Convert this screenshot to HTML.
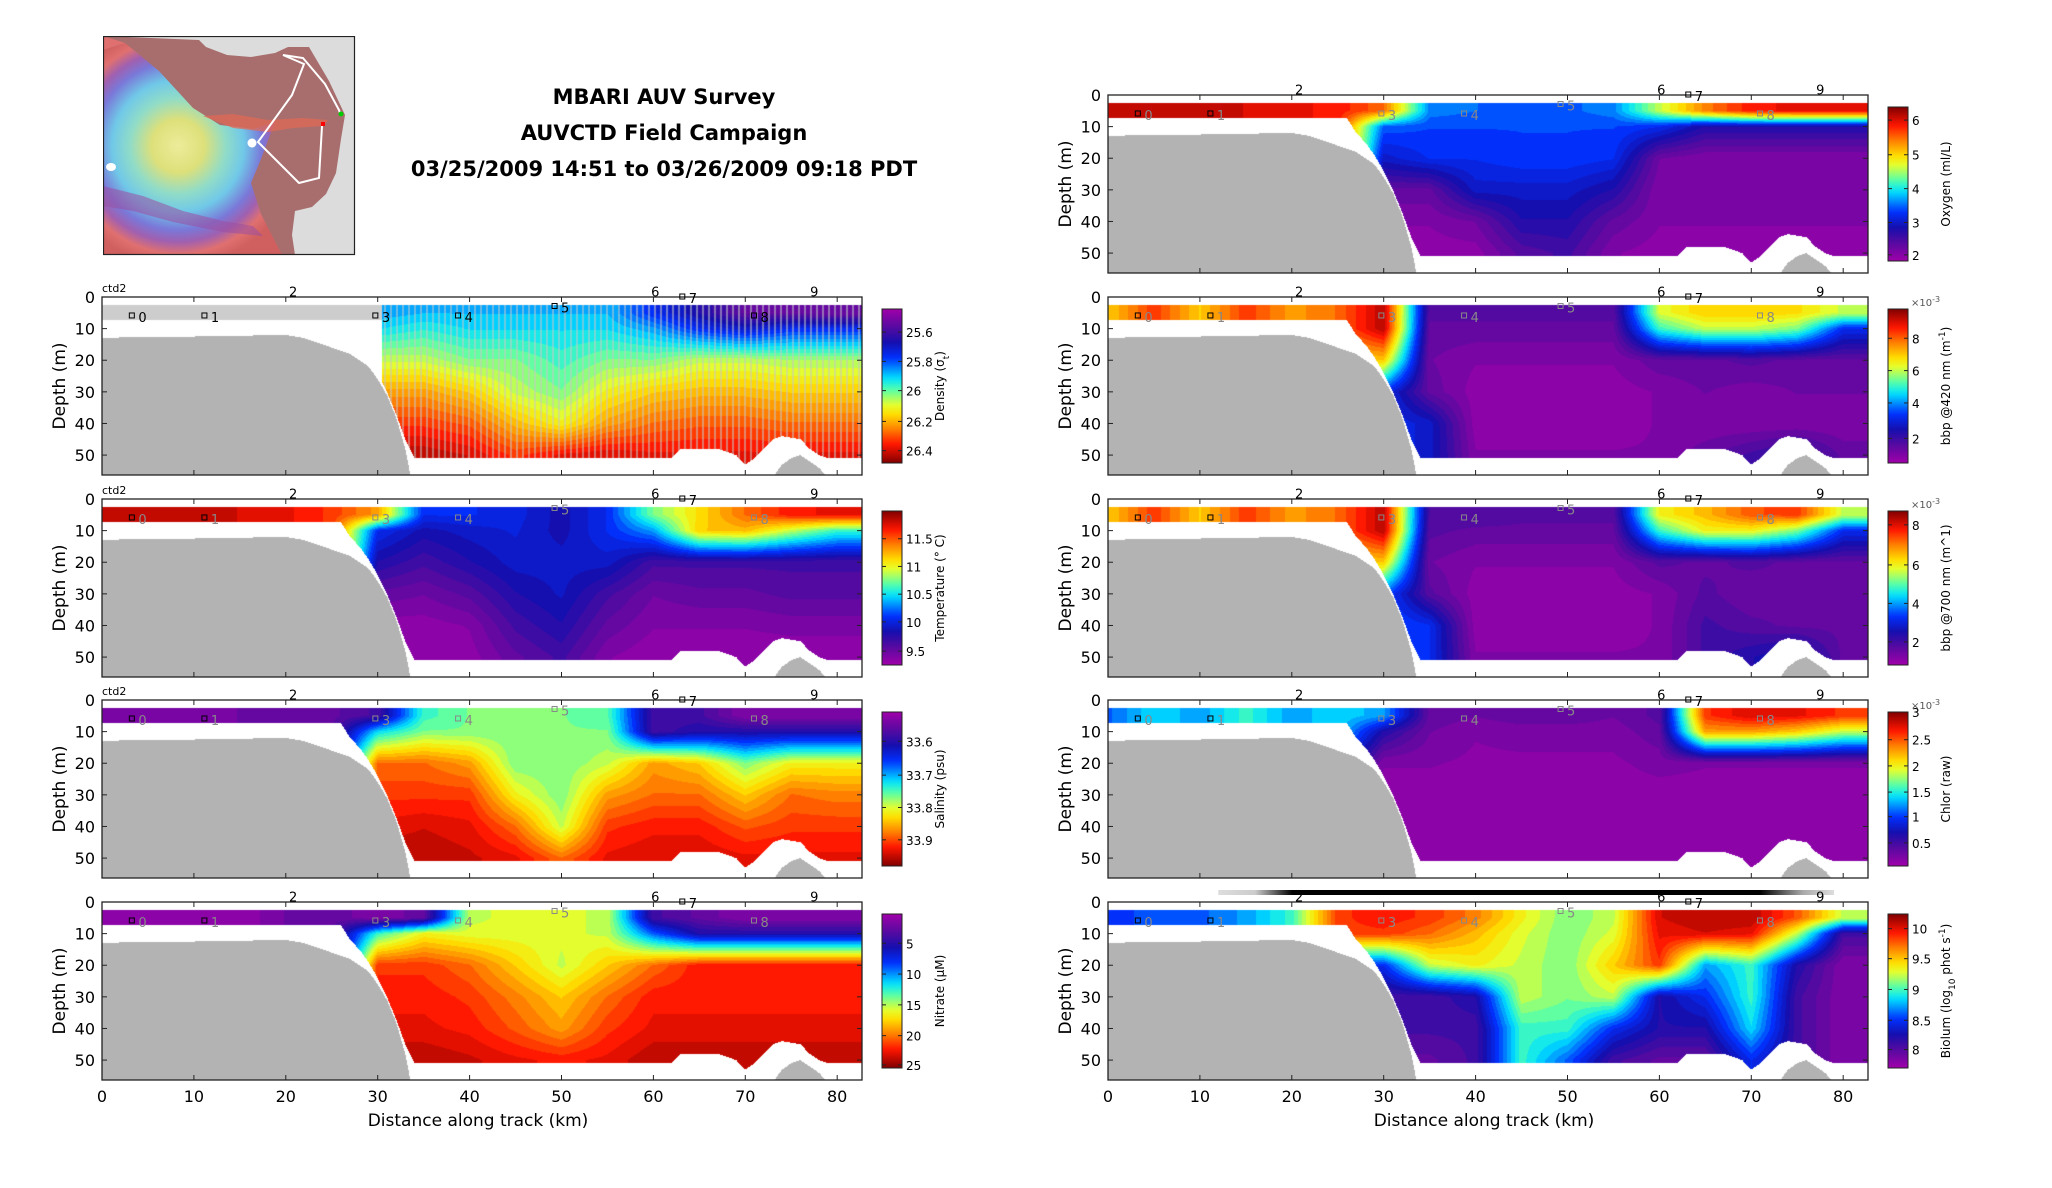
<!DOCTYPE html>
<html><head><meta charset="utf-8">
<style>
html,body{margin:0;padding:0;background:#fff;}
#root{position:relative;width:2052px;height:1188px;overflow:hidden;background:#fff;font-family:"DejaVu Sans","Liberation Sans",sans-serif;}
canvas{position:absolute;}
svg{position:absolute;left:0;top:0;}
</style></head>
<body>
<div id="root">
<svg id="map" style="left:103px;top:36px" width="253" height="220" viewBox="0 0 253 220">
 <defs>
  <radialGradient id="rg" cx="75" cy="110" r="120" gradientUnits="userSpaceOnUse">
   <stop offset="0" stop-color="#ecec9a"/><stop offset="0.22" stop-color="#dde07a"/>
   <stop offset="0.4" stop-color="#90dcc8"/><stop offset="0.55" stop-color="#70c8e8"/>
   <stop offset="0.7" stop-color="#7a78d8"/><stop offset="0.8" stop-color="#a060b0"/>
   <stop offset="0.9" stop-color="#e07070"/><stop offset="1" stop-color="#d06060"/>
  </radialGradient>
 </defs>
 <rect x="0" y="0" width="252" height="219" fill="#dcdcdc"/>
 <path d="M0 0 L96 4 L103 11 L124 19 L148 21 L172 17 L185 11 L206 11 L226 45 L242 79 L238 103 L233 137 L223 158 L209 171 L192 175 L189 199 L192 219 L0 219 Z" fill="#a86e6e"/>
 <path d="M0 14 L22 7 L56 35 L90 72 L117 89 L151 93 L172 86 L158 123 L148 147 L158 178 L179 219 L0 219 Z" fill="url(#rg)"/>
 <path d="M0 0 L22 7 L0 14 Z" fill="#e07070"/>
 <path d="M100 80 L130 78 L165 84 L200 82 L225 84 L220 90 L190 92 L165 96 L130 92 Z" fill="#e06a55" opacity="0.75"/>
 <path d="M0 150 L40 160 L80 175 L120 185 L150 190 L160 200 L120 196 L70 186 L30 175 L0 170 Z" fill="#9a4fa0" opacity="0.55"/>
 <polyline points="180,19 201,28 189,59 155,106 196,147 216,142 219,90" fill="none" stroke="#fff" stroke-width="2"/>
 <polyline points="180,19 200,22 222,48 236,74 237,77" fill="none" stroke="#fff" stroke-width="2"/>
 <circle cx="149" cy="107" r="4.5" fill="#fff"/><ellipse cx="8" cy="131" rx="5" ry="4" fill="#fff"/>
 <rect x="218" y="86" width="4" height="4" fill="#f00"/><circle cx="238" cy="78" r="2.5" fill="#0c0"/>
 <rect x="0.5" y="0.5" width="251" height="218" fill="none" stroke="#222" stroke-width="1.2"/>
</svg>
<svg id="ov" width="2052" height="1188"></svg>
</div>
<script>
// ---------- data ----------
const xs = [0,5,10,15,20,25,30,35,40,45,50,55,60,65,70,75,80];
const depths = [5,10,20,30,40,50];
const bottomKm = [0,26,27,28,29,30,31,32,33,34,62,63,67,69,70,71,72,73,74,76,77,78,79,83];
const bottomDepth = [7.3,7.3,12,15,19,24,30,37,45,51,51,48,48,50,53,51,48,45,44,45,48,50,51,51];
const floorKm = [0,5,10,20,22,25,27,29,30,31,32,33,33.6,34];
const floorDepth = [13,12.5,12.5,12,13,16,18,22,26,31,38,48,57,99];
const hillKm = [73,74,75,76,77,78,79];
const hillDepth = [57,53,51,50,52,54,57];
const densityRows = [
 [.4,.4,.4,.4,.4,.4,.4,.42,.42,.42,.42,.42,.3,.2,.1,.1,.08],
 [.4,.4,.4,.4,.4,.4,.45,.48,.45,.45,.45,.45,.4,.3,.25,.3,.3],
 [.5,.5,.5,.5,.5,.5,.6,.6,.55,.55,.5,.55,.55,.6,.6,.58,.58],
 [.7,.7,.7,.7,.7,.7,.75,.75,.7,.6,.55,.65,.7,.72,.72,.7,.7],
 [.85,.85,.85,.85,.85,.85,.85,.85,.82,.72,.65,.75,.8,.82,.82,.8,.8],
 [.95,.95,.95,.95,.95,.95,.95,.95,.92,.85,.9,.92,.9,.9,.9,.9,.9]];
const temperatureRows = [
 [.95,.95,.95,.92,.9,.85,.75,.3,.3,.28,.22,.3,.55,.68,.8,.88,.9],
 [.95,.95,.95,.92,.9,.85,.3,.22,.25,.27,.22,.3,.4,.7,.72,.6,.5],
 [.9,.9,.9,.9,.9,.85,.2,.15,.2,.25,.25,.25,.15,.15,.15,.15,.15],
 [.9,.9,.9,.9,.9,.85,.1,.08,.12,.2,.24,.15,.08,.1,.1,.12,.12],
 [.9,.9,.9,.9,.9,.85,.03,.03,.05,.15,.2,.1,.05,.05,.05,.06,.06],
 [.9,.9,.9,.9,.9,.85,.02,.02,.03,.1,.15,.05,.02,.02,.02,.02,.02]];
const salinityRows = [
 [.05,.05,.05,.08,.1,.1,.15,.5,.55,.55,.55,.52,.15,.15,.05,.05,.05],
 [.05,.05,.05,.08,.1,.1,.45,.55,.55,.55,.55,.55,.15,.2,.2,.2,.2],
 [.05,.05,.05,.08,.1,.1,.8,.8,.75,.55,.55,.6,.75,.7,.55,.65,.65],
 [.05,.05,.05,.08,.1,.1,.85,.85,.85,.65,.55,.75,.8,.8,.7,.8,.78],
 [.05,.05,.05,.08,.1,.1,.9,.92,.9,.8,.6,.85,.88,.88,.82,.85,.85],
 [.05,.05,.05,.08,.1,.1,.95,.95,.93,.9,.8,.9,.92,.92,.9,.9,.9]];
const nitrateRows = [
 [.02,.02,.02,.02,.08,.1,.05,.1,.6,.62,.62,.6,.15,.1,.05,.05,.05],
 [.02,.02,.02,.02,.08,.1,.5,.65,.62,.62,.62,.6,.35,.2,.2,.2,.2],
 [.02,.02,.02,.02,.02,.03,.85,.85,.8,.7,.6,.7,.8,.88,.88,.88,.88],
 [.02,.02,.02,.02,.02,.03,.88,.88,.85,.78,.7,.8,.88,.88,.88,.88,.88],
 [.02,.02,.02,.02,.02,.03,.9,.9,.88,.82,.75,.85,.9,.9,.9,.9,.9],
 [.02,.02,.02,.02,.02,.03,.95,.95,.93,.9,.88,.9,.95,.95,.95,.95,.95]];
const oxygenRows = [
 [.95,.95,.95,.92,.9,.88,.8,.38,.36,.35,.35,.38,.6,.78,.88,.9,.9],
 [.95,.95,.95,.92,.9,.88,.35,.33,.33,.33,.33,.33,.3,.2,.2,.2,.2],
 [.9,.9,.9,.9,.9,.88,.25,.3,.3,.32,.32,.3,.08,.05,.05,.05,.05],
 [.9,.9,.9,.9,.9,.88,.1,.1,.25,.25,.25,.2,.05,.05,.05,.05,.05],
 [.9,.9,.9,.9,.9,.88,.05,.05,.08,.2,.2,.1,.05,.05,.05,.05,.05],
 [.9,.9,.9,.9,.9,.88,.03,.03,.03,.12,.15,.05,.03,.03,.03,.03,.03]];
const bbp420Rows = [
 [.7,.85,.7,.85,.75,.8,.95,.12,.12,.12,.12,.12,.62,.7,.7,.68,.6],
 [.7,.85,.7,.85,.75,.8,.95,.1,.1,.1,.1,.1,.5,.6,.6,.55,.3],
 [.7,.7,.7,.7,.7,.7,.7,.08,.05,.05,.05,.05,.1,.1,.12,.1,.1],
 [.7,.7,.7,.7,.7,.7,.3,.1,.03,.03,.03,.03,.05,.08,.06,.08,.08],
 [.7,.7,.7,.7,.7,.7,.3,.25,.03,.03,.03,.03,.05,.05,.05,.05,.05],
 [.7,.7,.7,.7,.7,.7,.3,.25,.05,.05,.05,.05,.05,.1,.15,.2,.1]];
const bbp700Rows = [
 [.7,.85,.7,.85,.75,.8,.95,.14,.14,.12,.12,.12,.65,.72,.82,.85,.6],
 [.7,.85,.7,.85,.75,.8,.95,.12,.1,.1,.1,.1,.5,.65,.65,.55,.3],
 [.7,.7,.7,.7,.7,.7,.7,.08,.05,.05,.05,.05,.12,.1,.12,.1,.1],
 [.7,.7,.7,.7,.7,.7,.35,.12,.03,.03,.03,.03,.05,.12,.08,.1,.08],
 [.7,.7,.7,.7,.7,.7,.35,.3,.03,.03,.03,.03,.05,.15,.12,.1,.1],
 [.7,.7,.7,.7,.7,.7,.3,.3,.05,.05,.05,.05,.05,.15,.2,.25,.1]];
const chlorRows = [
 [.35,.45,.4,.5,.4,.45,.4,.1,.08,.1,.1,.08,.12,.85,.92,.9,.85],
 [.35,.45,.4,.5,.4,.45,.2,.08,.05,.06,.06,.06,.1,.75,.75,.7,.6],
 [.3,.3,.3,.3,.3,.3,.05,.05,.04,.04,.04,.04,.06,.05,.05,.05,.05],
 [.3,.3,.3,.3,.3,.3,.03,.03,.03,.03,.03,.03,.03,.03,.03,.03,.03],
 [.3,.3,.3,.3,.3,.3,.03,.03,.03,.03,.03,.03,.03,.03,.03,.03,.03],
 [.3,.3,.3,.3,.3,.3,.03,.03,.03,.03,.03,.03,.03,.03,.03,.03,.03]];
const biolumRows = [
 [.3,.35,.35,.4,.5,.85,.88,.85,.78,.65,.55,.6,.92,.95,.95,.82,.6],
 [.3,.35,.35,.4,.5,.85,.85,.8,.72,.62,.55,.62,.9,.92,.9,.6,.15],
 [.3,.3,.3,.3,.3,.3,.3,.6,.65,.6,.55,.7,.85,.4,.5,.2,.05],
 [.3,.3,.3,.3,.3,.3,.15,.15,.2,.6,.55,.6,.2,.3,.5,.15,.05],
 [.3,.3,.3,.3,.3,.3,.15,.15,.15,.5,.5,.3,.2,.2,.45,.15,.05],
 [.3,.3,.3,.3,.3,.3,.1,.1,.15,.5,.35,.15,.1,.1,.3,.15,.05]];
// colorbar tick labels and positions (fraction of bar from top)
const densityTicks = ["25.6","25.8","26","26.2","26.4"], densityTickPos=[.15,.34,.53,.73,.92];
const temperatureTicks = ["11.5","11","10.5","10","9.5"], temperatureTickPos=[.18,.36,.54,.72,.91];
const salinityTicks = ["33.6","33.7","33.8","33.9"], salinityTickPos=[.19,.41,.62,.83];
const nitrateTicks = ["5","10","15","20","25"], nitrateTickPos=[.19,.39,.59,.79,.98];
const oxygenTicks = ["6","5","4","3","2"], oxygenTickPos=[.085,.31,.53,.75,.96];
const bbp420Ticks = ["8","6","4","2"], bbp420TickPos=[.19,.40,.61,.84];
const bbp700Ticks = ["8","6","4","2"], bbp700TickPos=[.09,.35,.60,.85];
const chlorTicks = ["3","2.5","2","1.5","1","0.5"], chlorTickPos=[0,.18,.35,.52,.68,.85];
const biolumTicks = ["10","9.5","9","8.5","8"], biolumTickPos=[.095,.29,.49,.69,.88];
const xTicks = [0,10,20,30,40,50,60,70,80];
const yTicks = [0,10,20,30,40,50];
const stationNames = ["0","1","2","3","4","5","6","7","8","9"];
const stationKm = [3.3,11.2,20.8,29.8,38.8,49.3,60.2,63.2,71,77.5];
const stationDepth = [6,6,-1.5,6,6,3,-1.5,0,6,-1.5];

// ---------- layout ----------
const KMAX=82.7, DMAX=56.3;
const LX=102, RX=1108;
const panels = [
 {name:'density',rows:densityRows,x:LX,y:297,cl:'Density (σ<tspan baseline-shift="sub" font-size="9">t</tspan>)',ticks:densityTicks,tp:densityTickPos,ctd:true,stripes:true,flip:true},
 {name:'temperature',rows:temperatureRows,x:LX,y:499,cl:'Temperature (° C)',ticks:temperatureTicks,tp:temperatureTickPos,ctd:true},
 {name:'salinity',rows:salinityRows,x:LX,y:700,cl:'Salinity (psu)',ticks:salinityTicks,tp:salinityTickPos,ctd:true,flip:true},
 {name:'nitrate',rows:nitrateRows,x:LX,y:902,cl:'Nitrate (μM)',ticks:nitrateTicks,tp:nitrateTickPos,flip:true,xlab:true},
 {name:'oxygen',rows:oxygenRows,x:RX,y:95,cl:'Oxygen (ml/L)',ticks:oxygenTicks,tp:oxygenTickPos},
 {name:'bbp420',rows:bbp420Rows,x:RX,y:297,cl:'bbp @420 nm (m<tspan baseline-shift="super" font-size="9">-1</tspan>)',ticks:bbp420Ticks,tp:bbp420TickPos,exp:true},
 {name:'bbp700',rows:bbp700Rows,x:RX,y:499,cl:'bbp @700 nm (m^1)',ticks:bbp700Ticks,tp:bbp700TickPos,exp:true},
 {name:'chlor',rows:chlorRows,x:RX,y:700,cl:'Chlor (raw)',ticks:chlorTicks,tp:chlorTickPos,exp:true},
 {name:'biolum',rows:biolumRows,x:RX,y:902,cl:'Biolum (log<tspan baseline-shift="sub" font-size="9">10</tspan> phot s<tspan baseline-shift="super" font-size="9">-1</tspan>)',ticks:biolumTicks,tp:biolumTickPos,xlab:true,bar:true}
];
const PW=760, PH=178;

const cmapStops=[[0,[160,0,170]],[.12,[85,10,160]],[.22,[20,15,175]],[.32,[0,50,255]],[.45,[0,225,255]],[.52,[80,255,175]],[.62,[225,255,50]],[.68,[255,225,0]],[.78,[255,128,0]],[.88,[255,20,0]],[1,[128,0,0]]];
function cmap(v){
  v=Math.max(0,Math.min(1,v)); v=Math.round(v*32)/32;
  for(let i=1;i<cmapStops.length;i++){ if(v<=cmapStops[i][0]){const a=cmapStops[i-1],b=cmapStops[i];const t=(v-a[0])/(b[0]-a[0]);return [0,1,2].map(k=>Math.round(a[1][k]+(b[1][k]-a[1][k])*t));}}
  return cmapStops[cmapStops.length-1][1];
}
function interp1(X,Y,x){ if(x<=X[0])return Y[0]; for(let i=1;i<X.length;i++){ if(x<=X[i]){const t=(x-X[i-1])/(X[i]-X[i-1]);return Y[i-1]+(Y[i]-Y[i-1])*t;} } return Y[Y.length-1]; }
function field(rows,km,d){
  const col=depths.map((_,r)=>interp1(xs,rows[r],km));
  return interp1(depths,col,d);
}
const kmScale = px => px/PW*KMAX;
const dScale = py => py/PH*DMAX;
const xPos = km => km/KMAX*PW;
const yPos = d => d/DMAX*PH;

const root=document.getElementById('root');
const ov=document.getElementById('ov');
const NS='http://www.w3.org/2000/svg';
function el(tag,attrs,parent){const e=document.createElementNS(NS,tag);for(const k in attrs)e.setAttribute(k,attrs[k]);(parent||ov).appendChild(e);return e;}

// title
[['MBARI AUV Survey',97],['AUVCTD Field Campaign',133],['03/25/2009 14:51 to 03/26/2009 09:18 PDT',169]].forEach((t,i)=>{
  const e=el('text',{x:664,y:t[1]+7,'text-anchor':'middle','font-size':21,'font-weight':'bold',fill:'#000'});
  e.textContent=t[0];
  
  
});

panels.forEach(p=>{
  const cv=document.createElement('canvas');
  cv.width=PW;cv.height=PH;cv.style.left=p.x+'px';cv.style.top=p.y+'px';
  
  
  root.insertBefore(cv,ov);
  const ctx=cv.getContext('2d');const img=ctx.createImageData(PW,PH);const D=img.data;
  for(let px=0;px<PW;px++){
    const km=kmScale(px+0.5);
    const bot=interp1(bottomKm,bottomDepth,km);
    let fl=interp1(floorKm,floorDepth,km);
    if(km>=73&&km<=79) fl=Math.min(fl,interp1(hillKm,hillDepth,km));
    for(let py=0;py<PH;py++){
      const d=dScale(py+0.5); let c;
      if(d>=fl) c=[179,179,179];
      else if(d<2.5||d>bot) c=[255,255,255];
      else if(p.name==='density'&&km<30.5) c=(d<7.3)?[205,205,205]:[255,255,255];
      else {
        c=cmap(field(p.rows,km,d));
        if(p.stripes&&px%6<2) c=[Math.round(c[0]*.45+200*.55),Math.round(c[1]*.45+200*.55),Math.round(c[2]*.45+200*.55)];
      }
      const i=(py*PW+px)*4;D[i]=c[0];D[i+1]=c[1];D[i+2]=c[2];D[i+3]=255;
    }
  }
  ctx.putImageData(img,0,0);

  const g=el('g',{});
  
  
  el('rect',{x:p.x,y:p.y,width:PW,height:PH,fill:'none',stroke:'#222','stroke-width':1.3},g);
  xTicks.forEach(t=>{const x=p.x+xPos(t);
    el('line',{x1:x,y1:p.y+PH,x2:x,y2:p.y+PH-5,stroke:'#222'},g);
    el('line',{x1:x,y1:p.y,x2:x,y2:p.y+5,stroke:'#222'},g);
    if(p.xlab){const e=el('text',{x:x,y:p.y+PH+22,'text-anchor':'middle','font-size':16},g);e.textContent=t;}
  });
  yTicks.forEach(t=>{const y=p.y+yPos(t);
    el('line',{x1:p.x,y1:y,x2:p.x+5,y2:y,stroke:'#222'},g);
    el('line',{x1:p.x+PW,y1:y,x2:p.x+PW-5,y2:y,stroke:'#222'},g);
    const e=el('text',{x:p.x-7,y:y+6,'text-anchor':'end','font-size':16},g);e.textContent=t;});
  const yl=el('text',{x:0,y:0,'text-anchor':'middle','font-size':17,transform:`translate(${p.x-37},${p.y+PH/2}) rotate(-90)`},g);
  yl.textContent='Depth (m)';
  
  
  if(p.xlab){const xl=el('text',{x:p.x+PW/2-4,y:p.y+PH+46,'text-anchor':'middle','font-size':17},g);xl.textContent='Distance along track (km)';
    
    }
  if(p.ctd){const c=el('text',{x:p.x,y:p.y-5,'font-size':11},g);c.textContent='ctd2';}
  if(p.bar){const gr=el('linearGradient',{id:'bg'+p.name,x1:0,x2:1,y1:0,y2:0},g);
    [[0,'#ddd'],[0.06,'#ccc'],[0.12,'#000'],[0.88,'#000'],[0.95,'#aaa'],[1,'#ddd']].forEach(s=>el('stop',{offset:s[0],'stop-color':s[1]},gr));
    el('rect',{x:p.x+xPos(12),y:p.y-12,width:xPos(79)-xPos(12),height:5,fill:`url(#bg${p.name})`},g);}
  // stations
  stationNames.forEach((s,i)=>{
    const x=p.x+xPos(stationKm[i]), y=p.y+yPos(stationDepth[i]);
    const inside=stationDepth[i]>0;
    const col = (inside && i!==0 && i!==1 || p.name==='density') ? (p.name==='density'?'#000':'#888') : '#000';
    const mk = (i===2||i===6||i===9);
    if(!mk) el('rect',{x:x-3,y:y-3,width:5,height:5,fill:'none',stroke:col,'stroke-width':1},g);
    const t=el('text',{x:mk?x:x+6,y:mk?y+4:y+6,'font-size':13,fill:(i<2&&p.name!=='density')?'#888':col,'text-anchor':mk?'middle':'start'},g);
    t.textContent=s;
    
    
  });
  // colorbar
  const cx=p.x+PW+20, cy=p.y+12, cw=20, ch=154;
  const cb=el('g',{},g);
  
  
  const gr=el('linearGradient',{id:'cg'+p.name,x1:0,x2:0,y1:p.flip?0:1,y2:p.flip?1:0},cb);
  for(let k=0;k<=32;k++){const c=cmap(k/32);el('stop',{offset:k/32,'stop-color':`rgb(${c})`},gr);}
  el('rect',{x:cx,y:cy,width:cw,height:ch,fill:`url(#cg${p.name})`,stroke:'#222','stroke-width':1},cb);
  p.ticks.forEach((t,i)=>{const y=cy+p.tp[i]*ch;
    el('line',{x1:cx,y1:y,x2:cx+4,y2:y,stroke:'#222'},cb);el('line',{x1:cx+cw,y1:y,x2:cx+cw-4,y2:y,stroke:'#222'},cb);
    const e=el('text',{x:cx+cw+4,y:y+5,'font-size':12},cb);e.textContent=t;});
  if(p.exp){const e=el('text',{x:cx+cw+3,y:cy-3,'font-size':10,fill:'#555'},cb);e.innerHTML='×10<tspan baseline-shift="super" font-size="8">-3</tspan>';}
  const cl=el('text',{x:0,y:0,'text-anchor':'middle','font-size':12,transform:`translate(${cx+cw+42},${cy+ch/2}) rotate(-90)`},cb);
  cl.innerHTML=p.cl;
});
</script>
</body></html>
